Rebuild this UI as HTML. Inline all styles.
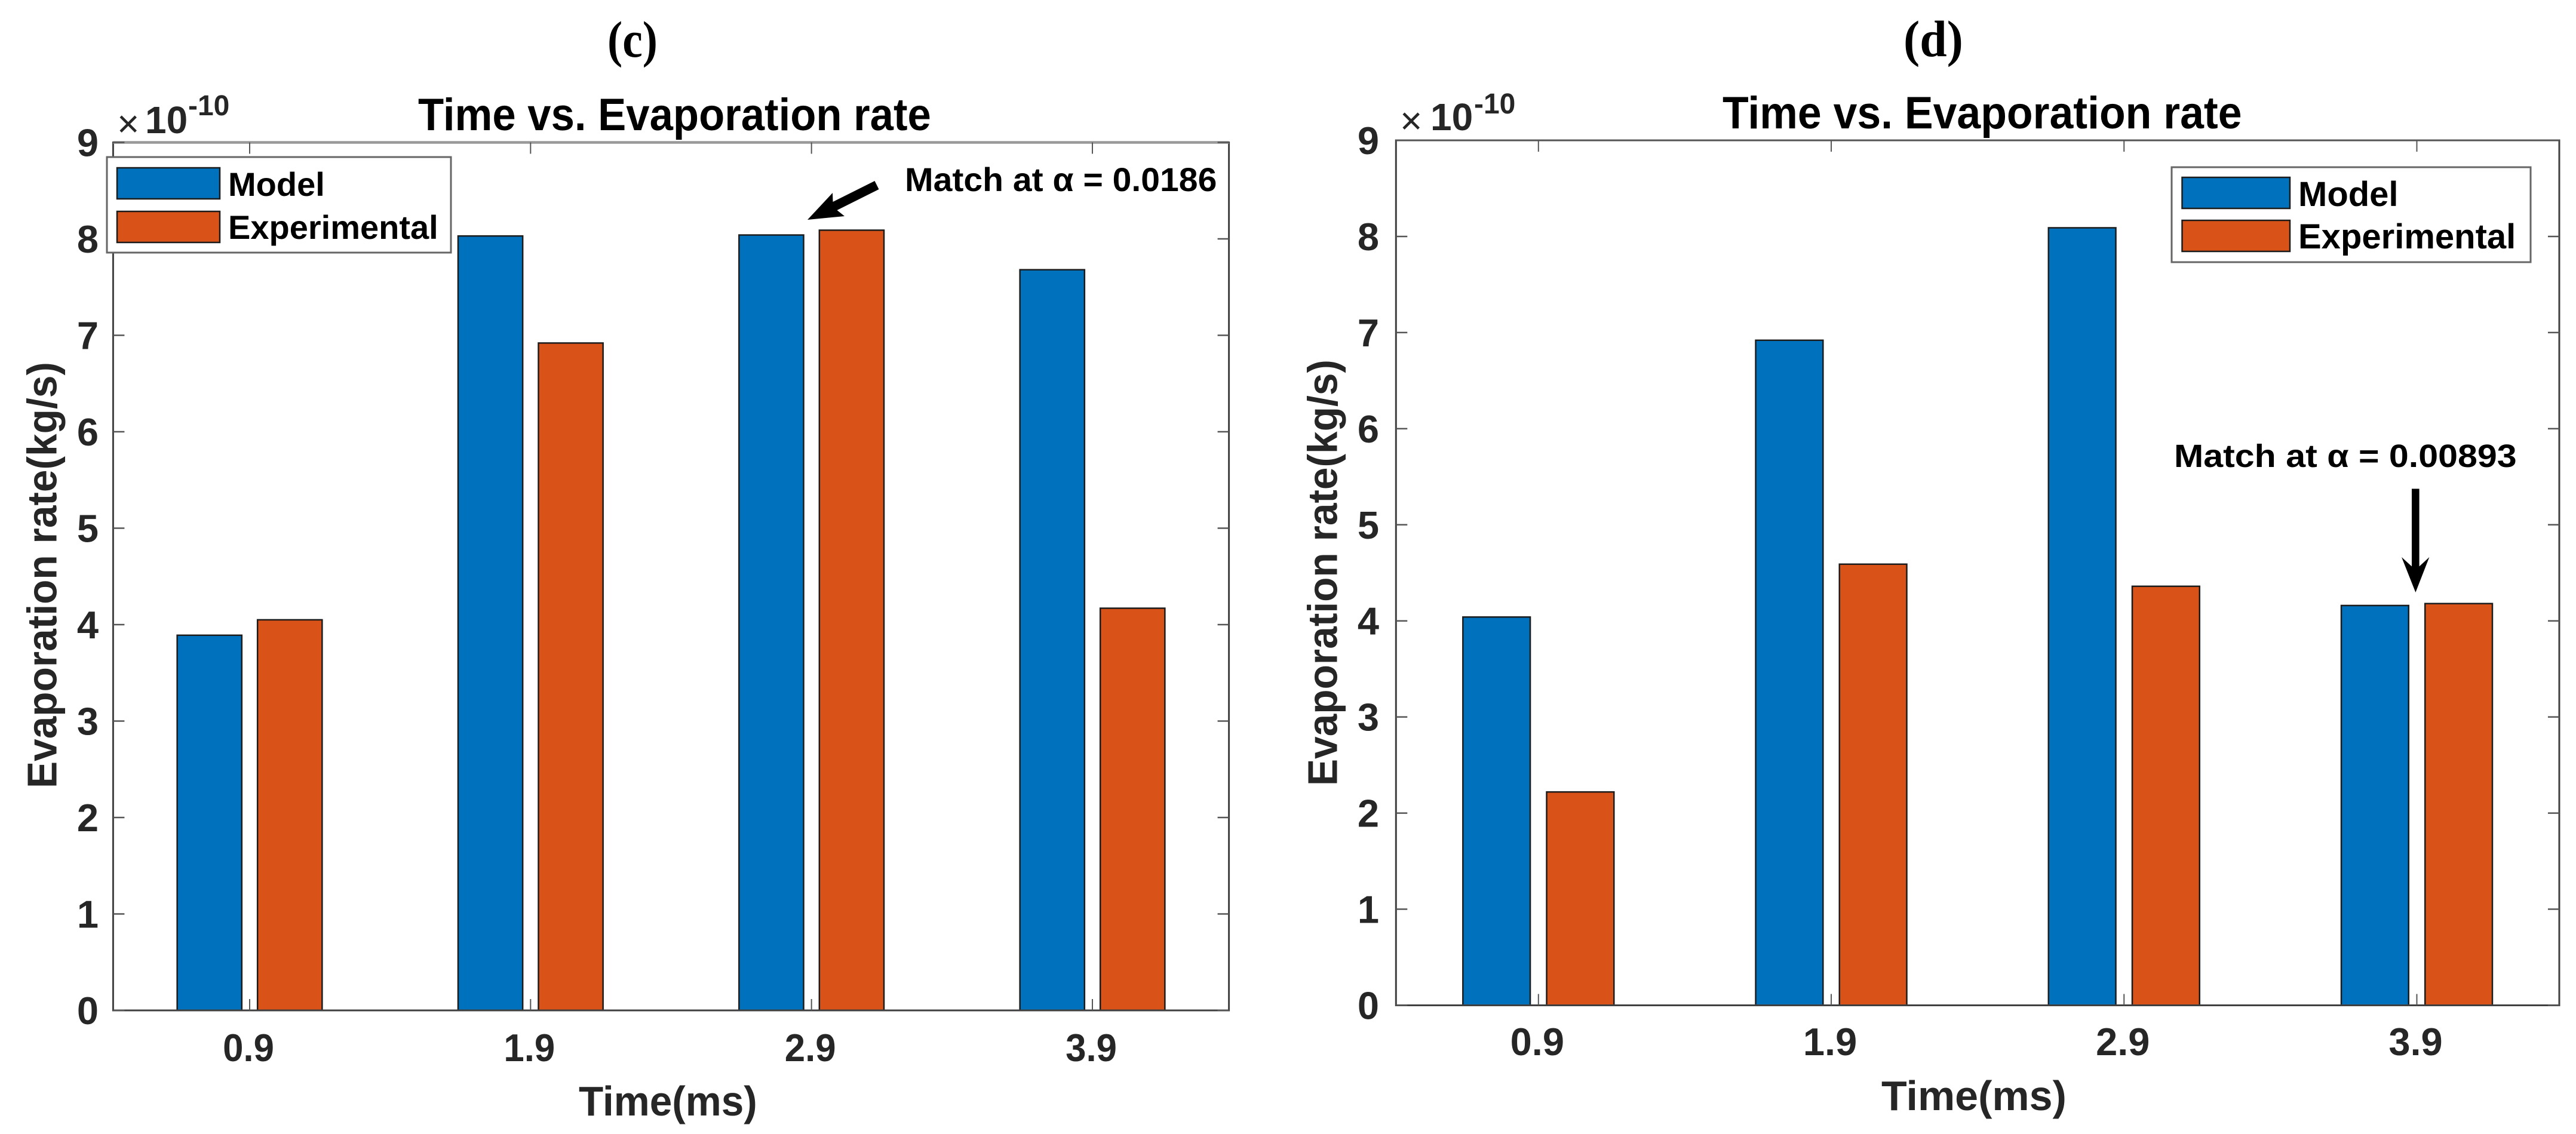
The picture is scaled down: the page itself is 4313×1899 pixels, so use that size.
<!DOCTYPE html>
<html lang="en">
<head>
<meta charset="utf-8">
<title>Time vs. Evaporation rate</title>
<style>
html,body{margin:0;padding:0;background:#fff;}
svg{display:block;}
text{font-family:"Liberation Sans",sans-serif;}
</style>
</head>
<body>
<svg id="figure" xmlns="http://www.w3.org/2000/svg" width="4313" height="1899" viewBox="0 0 4313 1899">
<rect x="0" y="0" width="4313" height="1899" fill="#ffffff"/>
</svg>
<script>
const categories = [0.9, 1.9, 2.9, 3.9];
const categoryLabels = ['0.9', '1.9', '2.9', '3.9'];
const yTickValues = [0, 1, 2, 3, 4, 5, 6, 7, 8, 9];
const modelC = [3.89, 8.03, 8.04, 7.68];
const experimentalC = [4.05, 6.92, 8.09, 4.17];
const modelD = [4.04, 6.92, 8.09, 4.16];
const experimentalD = [2.22, 4.59, 4.36, 4.18];
const seriesNames = ['Model', 'Experimental'];

const BLUE = '#0072BD', ORANGE = '#D95319', INK = '#262626', AXIS = '#404040';
const NS = 'http://www.w3.org/2000/svg';
const svg = document.getElementById('figure');

function make(parent, tag, attrs) {
  const e = document.createElementNS(NS, tag);
  for (const k in attrs) e.setAttribute(k, attrs[k]);
  parent.appendChild(e);
  return e;
}
function label(parent, x, y, str, size, opt) {
  const o = opt || {};
  const t = make(parent, 'text', {
    transform: 'translate(' + x + ',' + y + ')' + (o.rotate ? ' rotate(' + o.rotate + ')' : '') + ' scale(' + (o.sx || 1) + ',1)',
    'font-size': size,
    'font-weight': o.weight || 'bold',
    fill: o.fill || INK,
    'text-anchor': o.anchor || 'start'
  });
  if (o.family) t.setAttribute('style', 'font-family:' + o.family);
  t.textContent = str;
  return t;
}

function drawPanel(p) {
  const g = make(svg, 'g', {});
  
  

  const xScale = v => p.left + (v - p.xMin) / (p.xMax - p.xMin) * (p.right - p.left);
  const yScale = v => p.bottom - v / 9 * (p.bottom - p.top);

  const panelTag = label(g, p.tagX, p.tagY, '(' + p.id + ')', 86, {sx: p.tagSx, fill: '#000', family: '"Liberation Serif",serif'});
  
  

  const title = label(g, p.titleX, p.titleY, 'Time vs. Evaporation rate', 76, {sx: p.titleSx, fill: '#000'});
  
  

  const plot = make(g, 'rect', {x: p.left, y: p.top, width: p.right - p.left, height: p.bottom - p.top, fill: '#fff'});
  
  

  const barWidth = 0.23, barOffset = 0.143;
  categories.forEach((c, i) => {
    const mx = xScale(c - barOffset - barWidth / 2);
    const mw = xScale(c - barOffset + barWidth / 2) - mx;
    const my = yScale(p.model[i]);
    const mb = make(g, 'rect', {x: mx, y: my, width: mw, height: yScale(0) - my, fill: BLUE, stroke: '#1c1c1c', 'stroke-width': 2.5});
    
    

    const ex = xScale(c + barOffset - barWidth / 2);
    const ew = xScale(c + barOffset + barWidth / 2) - ex;
    const ey = yScale(p.experimental[i]);
    const eb = make(g, 'rect', {x: ex, y: ey, width: ew, height: yScale(0) - ey, fill: ORANGE, stroke: '#1c1c1c', 'stroke-width': 2.5});
    
    
  });

  const frame = make(g, 'rect', {x: p.left, y: p.top, width: p.right - p.left, height: p.bottom - p.top, fill: 'none', stroke: AXIS, 'stroke-width': 3});
  
  

  const topEdge = make(g, 'line', {x1: p.left, x2: p.right, y1: p.top, y2: p.top, stroke: p.topColor, 'stroke-width': p.topWidth});
  
  

  yTickValues.forEach(v => {
    const y = yScale(v);
    const lt = make(g, 'line', {x1: p.left, x2: p.left + 19, y1: y, y2: y, stroke: '#555', 'stroke-width': 2.5});
    
    
    const rt = make(g, 'line', {x1: p.right - 19, x2: p.right, y1: y, y2: y, stroke: '#555', 'stroke-width': 2.5});
    
    
    const yl = label(g, p.yLabelX, y + 23, String(v), 65, {anchor: 'end'});
    
    
  });

  categories.forEach((c, i) => {
    const x = xScale(c);
    const bt = make(g, 'line', {x1: x, x2: x, y1: p.bottom - 19, y2: p.bottom, stroke: '#555', 'stroke-width': 2});
    
    
    const tt = make(g, 'line', {x1: x, x2: x, y1: p.top, y2: p.top + 19, stroke: '#555', 'stroke-width': 2});
    
    
    const xl = label(g, x - 2, p.xLabelY, categoryLabels[i], 65, {anchor: 'middle', sx: p.xTickSx});
    
    
  });

  const xt = label(g, p.xTitleX, p.xTitleY, 'Time(ms)', 70, {sx: p.xTitleSx});
  
  

  const yt = label(g, p.yTitleX, p.yTitleY, 'Evaporation rate(kg/s)', 70, {rotate: -90, sx: 0.966});
  
  

  const m1 = label(g, p.expo.timesX, p.expo.timesY, '\u00D7', 64, {weight: 'normal'});
  
  
  const m2 = label(g, p.expo.tenX, p.expo.tenY, '10', 64);
  
  
  const m3 = label(g, p.expo.powX, p.expo.powY, '-10', 48);
  
  

  const lg = make(g, 'g', {});
  
  
  const box = make(lg, 'rect', {x: p.legend.x, y: p.legend.y, width: p.legend.w, height: p.legend.h, fill: '#fff', stroke: '#666', 'stroke-width': 3});
  
  
  seriesNames.forEach((name, i) => {
    const sw = make(lg, 'rect', {x: p.legend.swX, y: p.legend.swY[i], width: p.legend.swW, height: p.legend.swH, fill: i ? ORANGE : BLUE, stroke: '#1c1c1c', 'stroke-width': 2.5});
    
    
    const lt = label(lg, p.legend.textX, p.legend.textY[i], name, p.legend.size, {fill: '#000'});
    
    
  });

  const an = label(g, p.note.x, p.note.y, p.note.text, p.note.size, {fill: '#000', sx: p.note.sx});
  
  
  const ar = make(g, 'polygon', {points: p.note.arrow, fill: '#000'});
  
  
}

drawPanel({
  id: 'c', model: modelC, experimental: experimentalC,
  left: 189.4, right: 2057.6, top: 238.5, bottom: 1692, xMin: 0.414, xMax: 4.386,
  topColor: '#999', topWidth: 4.5,
  tagX: 1017, tagY: 95, tagSx: 0.88,
  titleX: 700, titleY: 218, titleSx: 0.93,
  yLabelX: 165, xLabelY: 1777, xTickSx: 0.95,
  xTitleX: 969, xTitleY: 1868, xTitleSx: 0.964,
  yTitleX: 94.3, yTitleY: 1320,
  expo: {timesX: 196, timesY: 229, tenX: 243, tenY: 223, powX: 315, powY: 193},
  legend: {x: 179, y: 263, w: 576, h: 160, swX: 196, swY: [281, 354], swW: 172, swH: 52, textX: 382, textY: [328, 400], size: 56},
  note: {x: 1515, y: 320, text: 'Match at \u03B1 = 0.0186', size: 56, sx: 1.02,
    arrow: '1352,368 1394,323 1394.5,338 1464.5,303 1471.5,317 1401.5,352 1414,362'}
});

drawPanel({
  id: 'd', model: modelD, experimental: experimentalD,
  left: 2337.3, right: 4285, top: 235, bottom: 1683.5, xMin: 0.4135, xMax: 4.3865,
  topColor: '#555', topWidth: 3,
  tagX: 3187, tagY: 94, tagSx: 0.95,
  titleX: 2884, titleY: 215, titleSx: 0.9417,
  yLabelX: 2309, xLabelY: 1767, xTickSx: 1.0,
  xTitleX: 3150, xTitleY: 1859, xTitleSx: 1.0,
  yTitleX: 2238.3, yTitleY: 1316,
  expo: {timesX: 2344, timesY: 224, tenX: 2395, tenY: 218, powX: 2468, powY: 190},
  legend: {x: 3636, y: 280, w: 601, h: 159, swX: 3653.5, swY: [297, 369], swW: 180.5, swH: 52, textX: 3848, textY: [345, 416], size: 58},
  note: {x: 3640, y: 782, text: 'Match at \u03B1 = 0.00893', size: 54, sx: 1.095,
    arrow: '4038,818.5 4050.6,818.5 4050.6,948.5 4067.4,933 4044.4,992 4021,933 4038,948.5'}
});
</script>
</body>
</html>
